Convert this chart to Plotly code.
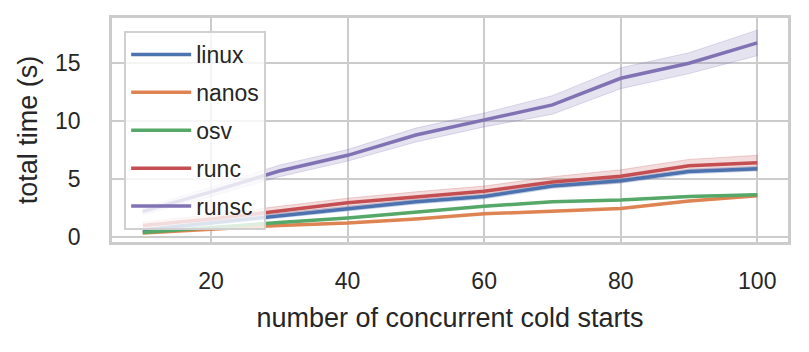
import plotly.graph_objects as go

x_vals = [10, 20, 30, 40, 50, 60, 70, 80, 90, 100]

linux = [0.6, 1.2, 1.85, 2.45, 3.05, 3.5, 4.4, 4.85, 5.65, 5.9]
nanos = [0.35, 0.7, 1.0, 1.2, 1.55, 2.0, 2.27, 2.47, 3.1, 3.55]
osv = [0.4, 0.85, 1.25, 1.65, 2.15, 2.65, 3.05, 3.2, 3.5, 3.65]
runc = [1.0, 1.55, 2.25, 2.95, 3.45, 3.95, 4.75, 5.25, 6.15, 6.4]
runsc = [2.2, 3.9, 5.7, 7.05, 8.8, 10.1, 11.4, 13.7, 15.0, 16.75]

# half-width of the shaded confidence band
linux_ci = [0.15, 0.15, 0.2, 0.2, 0.2, 0.2, 0.2, 0.2, 0.2, 0.2]
nanos_ci = [0.05, 0.05, 0.05, 0.05, 0.05, 0.05, 0.05, 0.05, 0.08, 0.08]
osv_ci = [0.05, 0.05, 0.05, 0.05, 0.05, 0.05, 0.05, 0.05, 0.08, 0.08]
runc_ci = [0.3, 0.35, 0.4, 0.4, 0.45, 0.45, 0.45, 0.55, 0.55, 0.65]
runsc_ci = [0.3, 0.4, 0.5, 0.5, 0.6, 0.6, 0.8, 0.9, 0.9, 1.1]

names = ["linux", "nanos", "osv", "runc", "runsc"]
series = [linux, nanos, osv, runc, runsc]
cis = [linux_ci, nanos_ci, osv_ci, runc_ci, runsc_ci]
colors = ["#4C72B0", "#DD8452", "#55A868", "#C44E52", "#8172B3"]

x_ticks = [20, 40, 60, 80, 100]
y_ticks = [0, 5, 10, 15]


def rgba(hex_color, a):
    h = hex_color.lstrip("#")
    r, g, b = int(h[0:2], 16), int(h[2:4], 16), int(h[4:6], 16)
    return f"rgba({r},{g},{b},{a})"


fig = go.Figure()
for name, ys, ci, col in zip(names, series, cis, colors):
    lo = [v - c for v, c in zip(ys, ci)]
    hi = [v + c for v, c in zip(ys, ci)]
    fig.add_trace(go.Scatter(
        x=x_vals + x_vals[::-1], y=hi + lo[::-1],
        fill="toself", fillcolor=rgba(col, 0.2),
        line=dict(color=rgba(col, 0.25), width=1),
        mode="lines", showlegend=False, hoverinfo="skip",
        legendgroup=name,
    ))
for name, ys, col in zip(names, series, colors):
    fig.add_trace(go.Scatter(
        x=x_vals, y=ys, mode="lines", name=name,
        line=dict(color=col, width=3.5),
        legendgroup=name,
    ))

font_family = "Liberation Sans"
text_color = "#262626"
grid = "#cccccc"

fig.update_layout(
    width=809, height=352,
    margin=dict(l=112, r=21, t=18, b=110, autoexpand=False),
    paper_bgcolor="white", plot_bgcolor="white",
    font=dict(family=font_family, color=text_color, size=23),
    legend=dict(
        x=0.018, y=0.942, xanchor="left", yanchor="top",
        bgcolor="rgba(255,255,255,0.8)", bordercolor="#d0d0d0", borderwidth=2,
        font=dict(size=23, color=text_color, family=font_family),
        tracegroupgap=5, itemwidth=60, maxheight=400,
    ),
    showlegend=True,
)
fig.update_xaxes(
    range=[5.5, 104.5], tickvals=x_ticks, ticktext=[str(v) for v in x_ticks],
    showgrid=True, gridcolor=grid, gridwidth=2,
    showline=True, linecolor=grid, linewidth=2.5, mirror=True,
    zeroline=False, ticks="", ticklabelstandoff=17, automargin=False,
    tickfont=dict(size=23),
    title=dict(text="number of concurrent cold starts", font=dict(size=27), standoff=15),
)
fig.update_yaxes(
    range=[-0.43, 18.9], tickvals=y_ticks, ticktext=[str(v) for v in y_ticks],
    showgrid=True, gridcolor=grid, gridwidth=2,
    showline=True, linecolor=grid, linewidth=2.5, mirror=True,
    zeroline=False, ticks="", ticklabelstandoff=24, automargin=False,
    tickfont=dict(size=23),
    title=dict(text="total time (s)", font=dict(size=27), standoff=10),
)

fig.write_html(
    "out.html",
    config={"displayModeBar": False},
    post_script="document.body.style.margin='0';document.body.style.overflow='hidden';",
)
